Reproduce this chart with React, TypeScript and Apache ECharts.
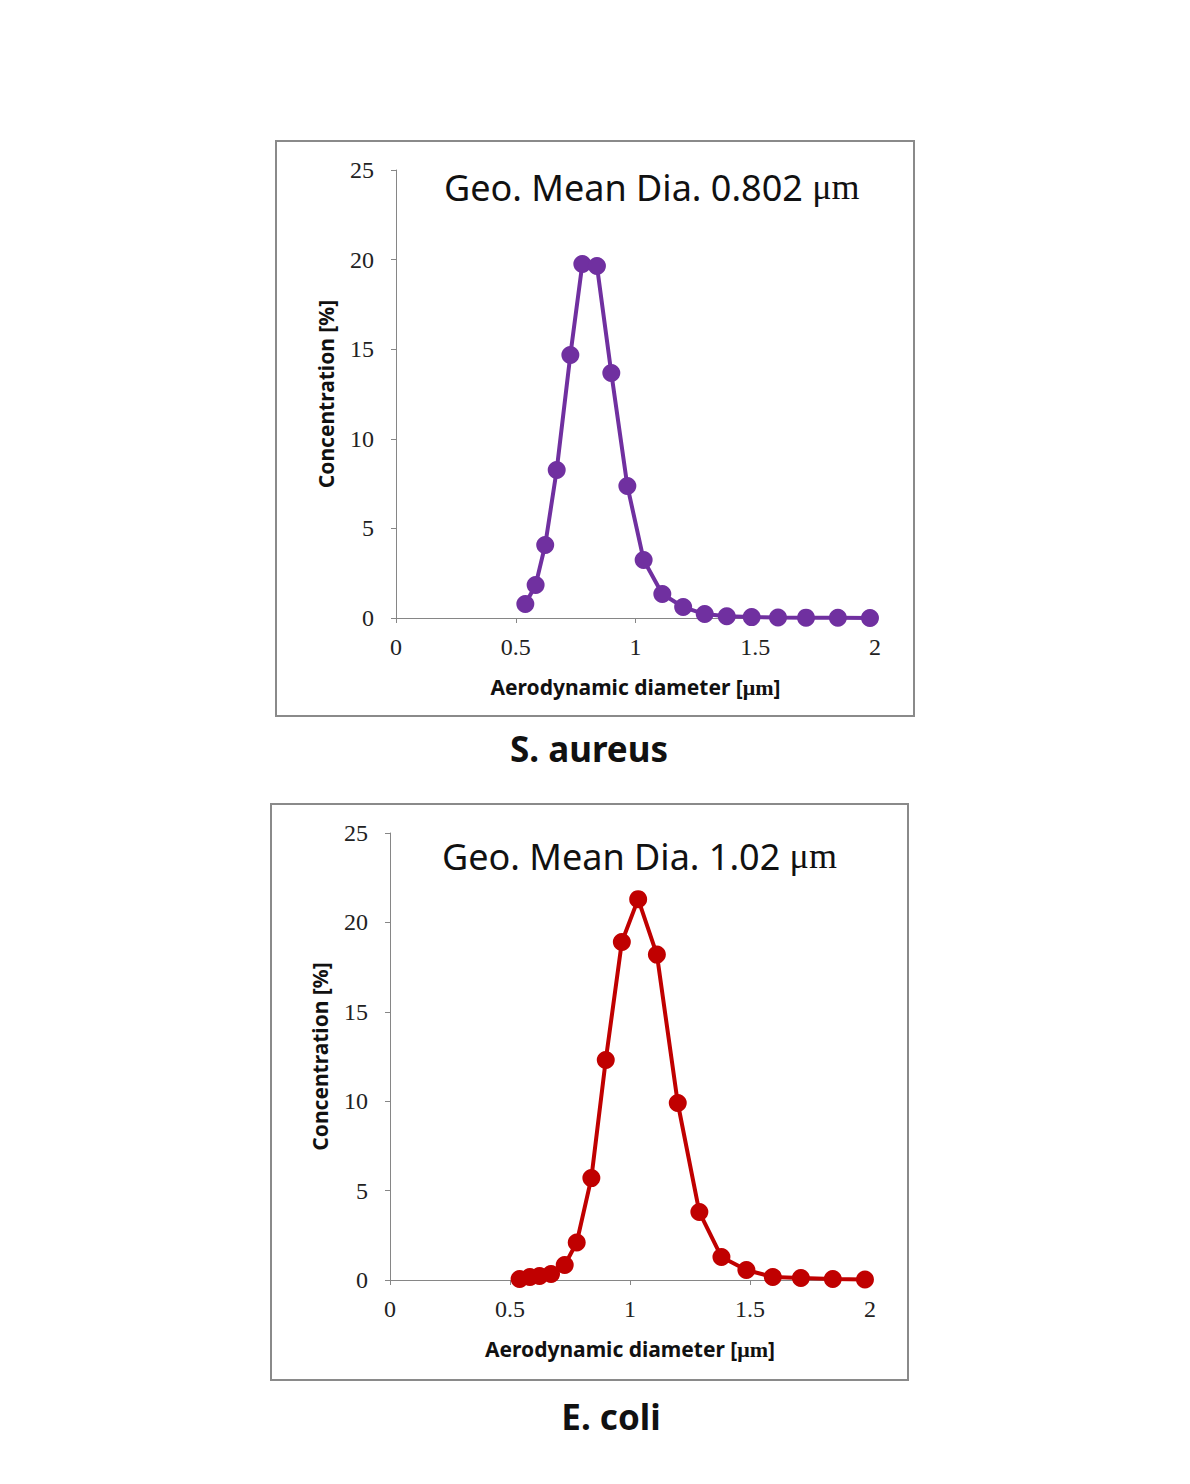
import React, { useEffect, useRef } from "react";
import * as echarts from "echarts";

const diameters = [0.54, 0.583, 0.623, 0.671, 0.728, 0.778, 0.839, 0.899, 0.966, 1.034, 1.112, 1.199, 1.289, 1.381, 1.485, 1.595, 1.712, 1.845, 1.979];
const aureusConc = [0.78, 1.84, 4.07, 8.26, 14.68, 19.75, 19.64, 13.67, 7.37, 3.24, 1.34, 0.61, 0.22, 0.1, 0.05, 0.03, 0.02, 0.01, 0.0];
const coliConc = [0.06, 0.17, 0.22, 0.34, 0.84, 2.1, 5.7, 12.3, 18.9, 21.3, 18.2, 9.9, 3.8, 1.29, 0.56, 0.17, 0.11, 0.06, 0.03];
const xTicks = [0, 0.5, 1, 1.5, 2];
const yTicks = [0, 5, 10, 15, 20, 25];
const panelTitles = ["Geo. Mean Dia. 0.802 ", "Geo. Mean Dia. 1.02 "];
const organisms = ["S. aureus", "E. coli"];

const SERIF = "'Liberation Serif', 'Times New Roman', serif";
const SANS = "'Noto Sans', 'Open Sans', sans-serif";
const AXIS_GRAY = "#868686";

export default function App() {
  const ref = useRef<HTMLDivElement>(null);
  useEffect(() => {
    if (!ref.current) return;
    const chart = echarts.init(ref.current, null, { renderer: "svg" });
    const grids = [
      { left: 396, top: 170, width: 479, height: 448 },
      { left: 390, top: 833, width: 480, height: 447 },
    ];
    const mkX = (i: number) => ({
      type: "value",
      gridIndex: i,
      min: 0,
      max: 2,
      interval: 0.5,
      name: "{a|Aerodynamic diameter [}{b|μm}{a|]}",
      nameLocation: "middle",
      nameGap: 58,
      nameTextStyle: {
        rich: {
          a: { fontFamily: SANS, fontWeight: "bold", fontSize: 21, color: "#111" },
          b: { fontFamily: SERIF, fontWeight: "bold", fontSize: 22, color: "#111" },
        },
      },
      axisLine: { onZero: false, lineStyle: { color: AXIS_GRAY, width: 1 } },
      axisTick: { show: true, length: 5, lineStyle: { color: AXIS_GRAY } },
      axisLabel: {
        fontFamily: SERIF,
        fontSize: 24,
        color: "#222",
        margin: 17,
        formatter: (v: number) => (xTicks.includes(v) ? String(v) : ""),
      },
      splitLine: { show: false },
    });
    const mkY = (i: number) => ({
      type: "value",
      gridIndex: i,
      min: 0,
      max: 25,
      interval: 5,
      name: "Concentration [%]",
      nameLocation: "middle",
      nameGap: 60,
      nameRotate: 90,
      nameTextStyle: { fontFamily: SANS, fontWeight: "bold", fontSize: 21, color: "#111" },
      axisLine: { show: true, lineStyle: { color: AXIS_GRAY, width: 1 } },
      axisTick: { show: true, length: 5, lineStyle: { color: AXIS_GRAY } },
      axisLabel: {
        fontFamily: SERIF,
        fontSize: 24,
        color: "#222",
        margin: 22,
        formatter: (v: number) => (yTicks.includes(v) ? String(v) : ""),
      },
      splitLine: { show: false },
    });
    const mkSeries = (i: number, vals: number[], color: string) => ({
      type: "line",
      xAxisIndex: i,
      yAxisIndex: i,
      data: diameters.map((d, k) => [d, vals[k]]),
      symbol: "circle",
      symbolSize: 18,
      itemStyle: { color },
      lineStyle: { color, width: 4 },
      z: 3,
    });
    const titleText = (x: number, y: number, t: string) => ({
      type: "text",
      x,
      y,
      style: {
        text: `{a|${t}}{b|μm}`,
        rich: {
          a: { fontFamily: SANS, fontSize: 36, fill: "#111" },
          b: { fontFamily: SERIF, fontSize: 36, fill: "#111" },
        },
        verticalAlign: "middle",
      },
    });
    chart.setOption({
      animation: false,
      backgroundColor: "#fff",
      grid: grids,
      xAxis: [mkX(0), mkX(1)],
      yAxis: [mkY(0), mkY(1)],
      series: [mkSeries(0, aureusConc, "#7030A0"), mkSeries(1, coliConc, "#C00000")],
      graphic: [
        { type: "rect", shape: { x: 276, y: 141, width: 638, height: 575 }, style: { fill: "none", stroke: "#8a8a8a", lineWidth: 2 }, z: 0 },
        { type: "rect", shape: { x: 271, y: 804, width: 637, height: 576 }, style: { fill: "none", stroke: "#8a8a8a", lineWidth: 2 }, z: 0 },
        titleText(444, 187, panelTitles[0]),
        titleText(442, 856, panelTitles[1]),
        { type: "text", x: 589, y: 748, style: { text: organisms[0], fontFamily: SANS, fontWeight: "bold", fontSize: 35, fill: "#111", align: "center", verticalAlign: "middle" } },
        { type: "text", x: 611, y: 1416, style: { text: organisms[1], fontFamily: SANS, fontWeight: "bold", fontSize: 35, fill: "#111", align: "center", verticalAlign: "middle" } },
      ],
    });
    return () => chart.dispose();
  }, []);
  return <div ref={ref} style={{ position: "absolute", left: 0, top: 0, width: 1190, height: 1484 }} />;
}
